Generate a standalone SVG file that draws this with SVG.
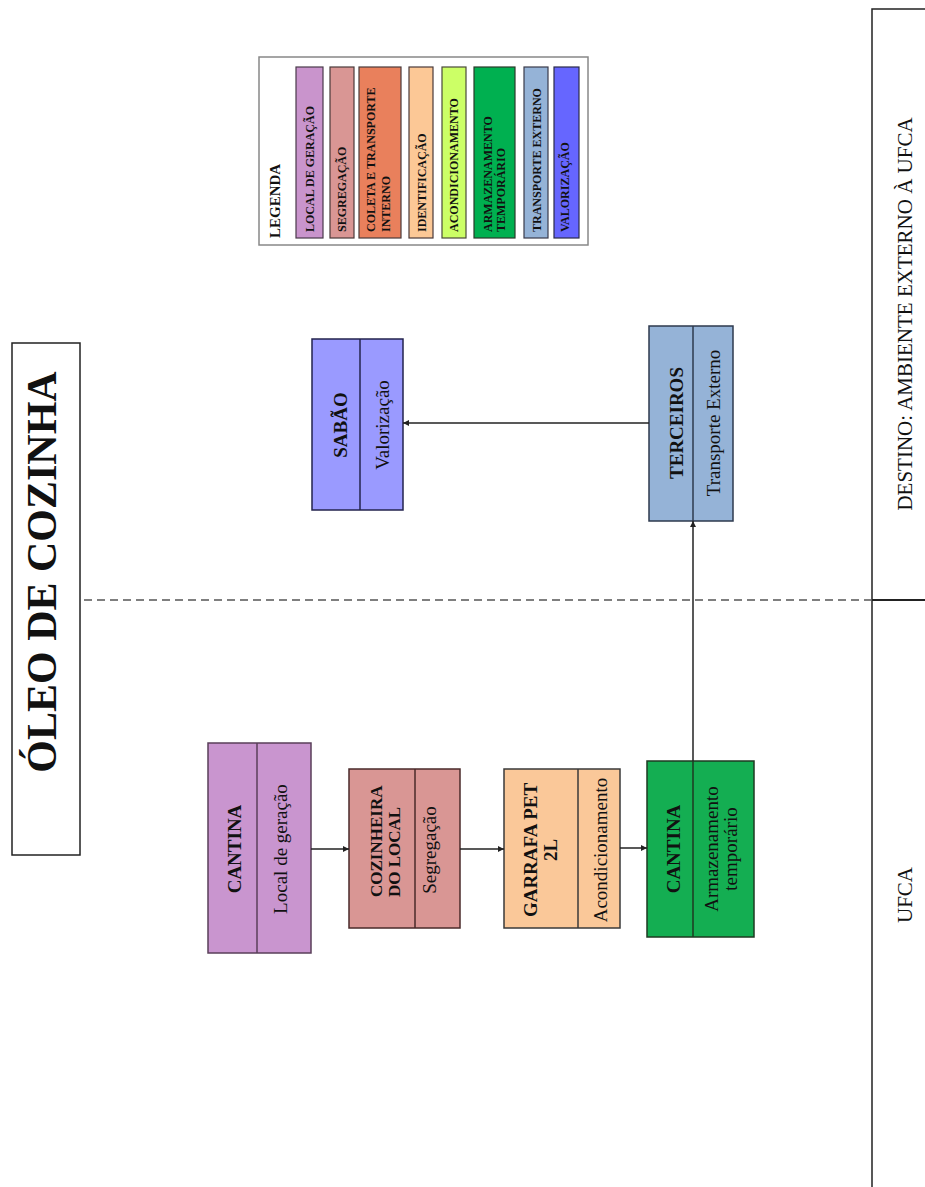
<svg xmlns="http://www.w3.org/2000/svg" width="925" height="1187" viewBox="0 0 925 1187">
  <style>
    .t { font-family: "Liberation Serif", "Times New Roman", serif; fill: #111; }
    .b { font-weight: bold; }
    .node { font-size: 19px; }
    .leg { font-size: 12px; font-weight: bold; }
    .box { stroke-width: 1.5; }
    .conn { stroke: #222; stroke-width: 1.5; fill: none; }
  </style>
  <defs>
    <marker id="arrow" viewBox="0 0 10 10" refX="10" refY="5" markerWidth="6" markerHeight="6" orient="auto-start-reverse" markerUnits="userSpaceOnUse">
      <path d="M0,0 L10,5 L0,10 z" fill="#222"/>
    </marker>
  </defs>
  <rect width="925" height="1187" fill="#fff"/>

  <!-- title -->
  <g id="title">
    <rect x="12" y="343" width="68" height="512" fill="#fff" stroke="#222" stroke-width="1.5"/>
    <text class="t b" font-size="42" text-anchor="middle" transform="translate(56,572) rotate(-90)">ÓLEO DE COZINHA</text>
  </g>

  <!-- zone panel on the right -->
  <g id="zones">
    <path d="M925,9 H872 V1187" fill="none" stroke="#222" stroke-width="1.5"/>
    <line x1="872" y1="600" x2="925" y2="600" stroke="#222" stroke-width="2"/>
    <line x1="84" y1="600" x2="872" y2="600" stroke="#555" stroke-width="1.5" stroke-dasharray="8,5"/>
    <text class="t" font-size="21" text-anchor="middle" transform="translate(912,314) rotate(-90)">DESTINO: AMBIENTE EXTERNO À UFCA</text>
    <text class="t" font-size="21" text-anchor="middle" transform="translate(912,895) rotate(-90)">UFCA</text>
  </g>

  <!-- legend -->
  <g id="legend">
    <rect x="259" y="57" width="329" height="188" fill="#fff" stroke="#888" stroke-width="1.5"/>
    <text class="t b" font-size="15" transform="translate(280,238) rotate(-90)">LEGENDA</text>
    <rect x="296" y="67" width="27" height="171" fill="#c994cc" stroke="#4a3a4a" stroke-width="1.2"/>
    <text class="t leg" transform="translate(313.5,232) rotate(-90)">LOCAL DE GERAÇÃO</text>
    <rect x="330" y="67" width="24" height="171" fill="#d99694" stroke="#4a3a3a" stroke-width="1.2"/>
    <text class="t leg" transform="translate(346,232) rotate(-90)">SEGREGAÇÃO</text>
    <rect x="359" y="67" width="42" height="171" fill="#e9805c" stroke="#4a3a3a" stroke-width="1.2"/>
    <text class="t leg" transform="translate(375,232) rotate(-90)">COLETA E TRANSPORTE</text>
    <text class="t leg" transform="translate(390,232) rotate(-90)">INTERNO</text>
    <rect x="409" y="67" width="24" height="171" fill="#fcc896" stroke="#4a3a3a" stroke-width="1.2"/>
    <text class="t leg" transform="translate(426,232) rotate(-90)">IDENTIFICAÇÃO</text>
    <rect x="442" y="67" width="24" height="171" fill="#ccff66" stroke="#4a4a3a" stroke-width="1.2"/>
    <text class="t leg" transform="translate(458,232) rotate(-90)">ACONDICIONAMENTO</text>
    <rect x="474" y="67" width="41" height="171" fill="#00b050" stroke="#2a3a2a" stroke-width="1.2"/>
    <text class="t leg" transform="translate(492,232) rotate(-90)">ARMAZENAMENTO</text>
    <text class="t leg" transform="translate(505,232) rotate(-90)">TEMPORÁRIO</text>
    <rect x="524" y="67" width="24" height="171" fill="#95b3d7" stroke="#3a3a4a" stroke-width="1.2"/>
    <text class="t leg" transform="translate(541,232) rotate(-90)">TRANSPORTE EXTERNO</text>
    <rect x="554" y="67" width="25" height="171" fill="#6666ff" stroke="#2a2a4a" stroke-width="1.2"/>
    <text class="t leg" transform="translate(569,232) rotate(-90)">VALORIZAÇÃO</text>
  </g>

  <!-- process nodes -->
  <g id="node-cantina-geracao">
    <rect class="box" x="208" y="743" width="103" height="210" fill="#c995cf" stroke="#5a3f5a"/>
    <line x1="257" y1="743" x2="257" y2="953" stroke="#5a3f5a" stroke-width="1.5"/>
    <text class="t b node" text-anchor="middle" transform="translate(241,849) rotate(-90)">CANTINA</text>
    <text class="t node" text-anchor="middle" transform="translate(287,849) rotate(-90)">Local de geração</text>
  </g>

  <g id="node-cozinheira">
    <rect class="box" x="349" y="769" width="111" height="159" fill="#d99694" stroke="#4a2a2a"/>
    <line x1="415" y1="769" x2="415" y2="928" stroke="#4a2a2a" stroke-width="1.5"/>
    <text class="t b" font-size="17" transform="translate(382,897) rotate(-90)">COZINHEIRA</text>
    <text class="t b" font-size="17" transform="translate(400,897) rotate(-90)">DO LOCAL</text>
    <text class="t node" text-anchor="middle" transform="translate(436,850) rotate(-90)">Segregação</text>
  </g>

  <g id="node-garrafa">
    <rect class="box" x="504" y="769" width="116" height="159" fill="#fac899" stroke="#3a3a3a"/>
    <line x1="578" y1="769" x2="578" y2="928" stroke="#3a3a3a" stroke-width="1.5"/>
    <text class="t b node" text-anchor="middle" transform="translate(537,850) rotate(-90)">GARRAFA PET</text>
    <text class="t b node" text-anchor="middle" transform="translate(557,850) rotate(-90)">2L</text>
    <text class="t node" text-anchor="middle" transform="translate(607,850) rotate(-90)">Acondicionamento</text>
  </g>

  <g id="node-cantina-armazenamento">
    <rect class="box" x="647" y="761" width="107" height="176" fill="#14ae52" stroke="#1e3a22"/>
    <line x1="693" y1="761" x2="693" y2="937" stroke="#1e3a22" stroke-width="1.5"/>
    <text class="t b node" text-anchor="middle" transform="translate(680,849) rotate(-90)">CANTINA</text>
    <text class="t node" text-anchor="middle" transform="translate(718,849) rotate(-90)">Armazenamento</text>
    <text class="t node" text-anchor="middle" transform="translate(737,849) rotate(-90)">temporário</text>
  </g>

  <g id="node-terceiros">
    <rect class="box" x="649" y="326" width="84" height="195" fill="#95b3d7" stroke="#2e3a4e"/>
    <line x1="693" y1="326" x2="693" y2="521" stroke="#2e3a4e" stroke-width="1.5"/>
    <text class="t b node" text-anchor="middle" transform="translate(683,423) rotate(-90)">TERCEIROS</text>
    <text class="t node" text-anchor="middle" transform="translate(720,423) rotate(-90)">Transporte Externo</text>
  </g>

  <g id="node-sabao">
    <rect class="box" x="312" y="339" width="91" height="171" fill="#9a9aff" stroke="#23234e"/>
    <line x1="360" y1="339" x2="360" y2="510" stroke="#23234e" stroke-width="1.5"/>
    <text class="t b node" text-anchor="middle" transform="translate(347,425) rotate(-90)">SABÃO</text>
    <text class="t node" text-anchor="middle" transform="translate(389,425) rotate(-90)">Valorização</text>
  </g>

  <!-- connectors -->
  <g id="connectors">
    <line class="conn" x1="311" y1="849" x2="349" y2="849" marker-end="url(#arrow)"/>
    <line class="conn" x1="460" y1="849" x2="504" y2="849" marker-end="url(#arrow)"/>
    <line class="conn" x1="620" y1="848" x2="647" y2="848" marker-end="url(#arrow)"/>
    <line class="conn" x1="693" y1="761" x2="693" y2="521" marker-end="url(#arrow)"/>
    <line class="conn" x1="649" y1="423" x2="403" y2="423" marker-end="url(#arrow)"/>
  </g>
</svg>
